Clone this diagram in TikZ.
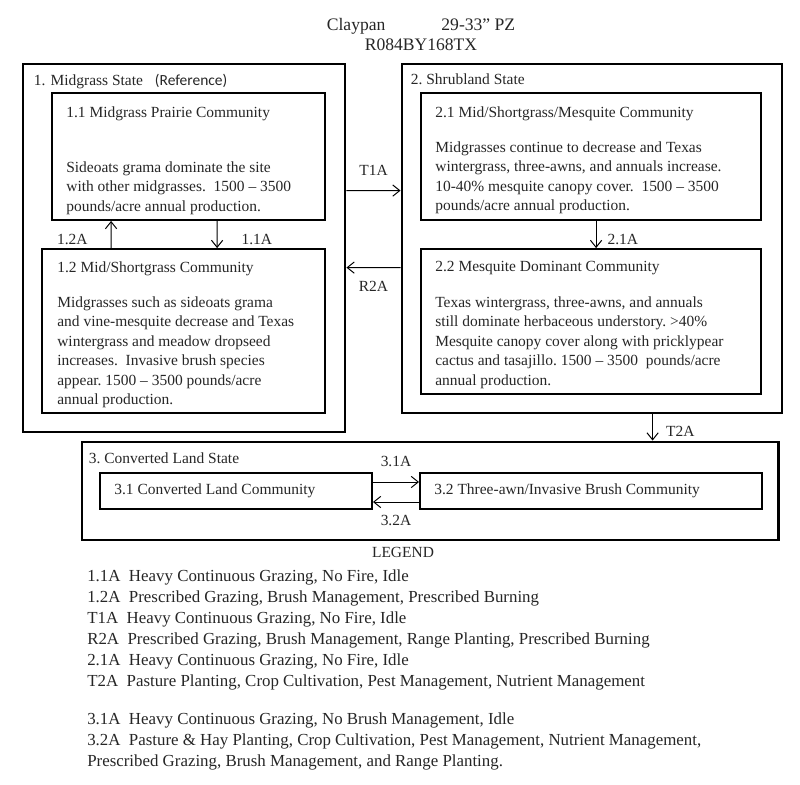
\documentclass[tikz,border=0pt]{standalone}
\usepackage{fontspec}
\setmainfont{Liberation Serif}
\newfontfamily\calfont{Carlito}
\usetikzlibrary{arrows.meta}
\begin{document}
\begin{tikzpicture}[x=0.025cm,y=-0.025cm,
  statebox/.style 2 args={draw,line width=2pt,minimum width=#1,minimum height=#2,inner sep=0pt},
  commbox/.style 2 args={draw,line width=1.3pt,minimum width=#1,minimum height=#2,inner sep=0pt},
  txt/.style={anchor=north west,inner sep=0pt,align=left,text=black!85,font=\fontsize{11}{13.9}\selectfont},
  lbl/.style={inner sep=0pt,text=black!85,font=\fontsize{11}{13.9}\selectfont},
  arr/.style={line width=0.7pt,-{Straight Barb[length=5pt,width=8pt]}}]
\useasboundingbox (0,0) rectangle (800,784);
\node[lbl,anchor=north,align=center,font=\fontsize{12.5}{14.2}\selectfont](head) at (421,18){Claypan\hspace{1.4cm}29-33'' PZ\\R084BY168TX};
% states
\node[statebox={8.05cm}{9.2cm}](s1) at (184,248){};
\node[statebox={9.5cm}{8.725cm}](s2) at (592,238.5){};
\node[statebox={17.4cm}{2.45cm}](s3) at (430,491){};
% communities
\node[commbox={6.825cm}{3.175cm}](c11) at (188.5,156.5){};
\node[commbox={7.075cm}{4.1cm}](c12) at (183.5,331){};
\node[commbox={8.5cm}{3.175cm}](c21) at (591,156.5){};
\node[commbox={8.5cm}{3.625cm}](c22) at (591,321.5){};
\node[commbox={6.8cm}{0.9cm}](c31) at (236,491){};
\node[commbox={8.55cm}{0.9cm}](c32) at (591,491){};
% texts
\node[txt](t1) at ([shift={(12,11)}]s1.north west){1. Midgrass State\hspace{0.3cm}{\calfont (Reference)}};
\node[txt](t11) at ([shift={(15,14)}]c11.north west){1.1 Midgrass Prairie Community};
\node[txt](b11) at ([shift={(15,69)}]c11.north west){Sideoats grama dominate the site\\with other midgrasses.\ \ 1500 -- 3500\\pounds/acre annual production.};
\node[txt](t12) at ([shift={(16,13)}]c12.north west){1.2 Mid/Shortgrass Community};
\node[txt](b12) at ([shift={(16,48)}]c12.north west){Midgrasses such as sideoats grama\\and vine-mesquite decrease and Texas\\wintergrass and meadow dropseed\\increases.\ \ Invasive brush species\\appear.\ 1500 -- 3500 pounds/acre\\annual production.};
\node[txt](t2) at ([shift={(10,11)}]s2.north west){2.\ Shrubland State};
\node[txt](t21) at ([shift={(15,14)}]c21.north west){2.1 Mid/Shortgrass/Mesquite Community};
\node[txt](b21) at ([shift={(15,49)}]c21.north west){Midgrasses continue to decrease and Texas\\wintergrass, three-awns, and annuals increase.\\10-40\% mesquite canopy cover.\ \ 1500 -- 3500\\pounds/acre annual production.};
\node[txt](t22) at ([shift={(15,13)}]c22.north west){2.2 Mesquite Dominant Community};
\node[txt](b22) at ([shift={(15,48)}]c22.north west){Texas wintergrass, three-awns, and annuals\\still dominate herbaceous understory.\ >40\%\\Mesquite canopy cover along with pricklypear\\cactus and tasajillo.\ 1500 -- 3500\ \ pounds/acre\\annual production.};
\node[txt](t3) at ([shift={(8,12)}]s3.north west){3.\ Converted Land State};
\node[lbl,anchor=west](t31) at ([shift={(15,0)}]c31.west){3.1\ Converted Land Community};
\node[lbl,anchor=west](t32) at ([shift={(15,0)}]c32.west){3.2 Three-awn/Invasive Brush Community};
% transitions
\draw[arr] ([xshift=1.75cm]c12.north west) -- ([xshift=1.5cm]c11.south west) node[lbl,pos=0.31,left=0.575cm]{1.2A};
\draw[arr] ([xshift=4.15cm]c11.south west) -- ([xshift=4.4cm]c12.north west) node[lbl,pos=0.69,right=0.6cm]{1.1A};
\draw[arr] ([xshift=4.4cm]c21.south west) -- ([xshift=4.4cm]c22.north west) node[lbl,pos=0.69,right=0.275cm]{2.1A};
\draw[arr] ([yshift=-3.2cm]s1.north east) -- ([yshift=-3.2cm]s2.north west) node[lbl,midway,above=0.375cm]{T1A};
\draw[arr] ([yshift=-5.125cm]s2.north west) -- ([yshift=-5.125cm]s1.north east) node[lbl,midway,below=0.325cm]{R2A};
\coordinate (c2) at ([xshift=6.3cm]s2.south west);
\draw[arr] (c2) -- (c2 |- s3.north) node[lbl,pos=0.65,right=0.325cm]{T2A};
\draw[arr] ([yshift=0.225cm]c31.east) -- ([yshift=0.225cm]c32.west) node[lbl,midway,above=0.375cm]{3.1A};
\draw[arr] ([yshift=-0.275cm]c32.west) -- ([yshift=-0.275cm]c31.east) node[lbl,midway,below=0.325cm]{3.2A};
% legend
\node[lbl,anchor=north](leg) at (403,547){LEGEND};
\node[txt,font=\fontsize{12}{15}\selectfont](legl) at (87,569){1.1A\ \ Heavy Continuous Grazing, No Fire, Idle\\
1.2A\ \ Prescribed Grazing, Brush Management, Prescribed Burning\\
T1A\ \ Heavy Continuous Grazing, No Fire, Idle\\
R2A\ \ Prescribed Grazing, Brush Management, Range Planting, Prescribed Burning\\
2.1A\ \ Heavy Continuous Grazing, No Fire, Idle\\
T2A\ \ Pasture Planting, Crop Cultivation, Pest Management, Nutrient Management\\[12pt]
3.1A\ \ Heavy Continuous Grazing, No Brush Management, Idle\\
3.2A\ \ Pasture \& Hay Planting, Crop Cultivation, Pest Management, Nutrient Management,\\
Prescribed Grazing, Brush Management, and Range Planting.};
\end{tikzpicture}
\end{document}
